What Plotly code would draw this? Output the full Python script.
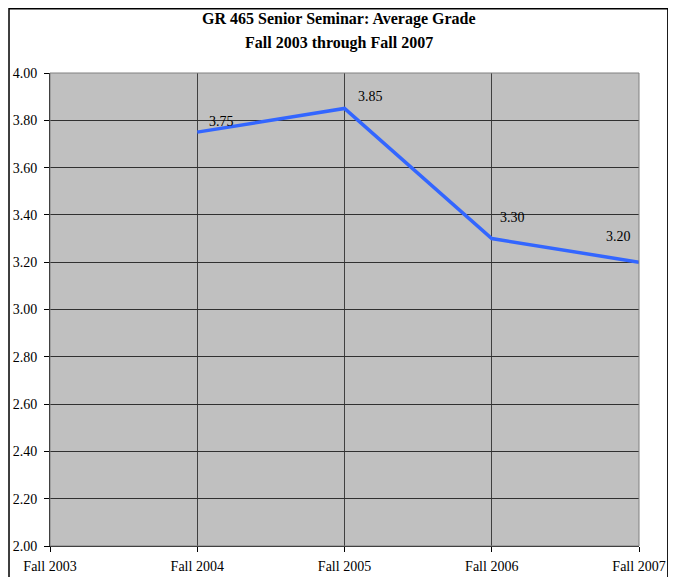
import plotly.graph_objects as go

terms = ["Fall 2003", "Fall 2004", "Fall 2005", "Fall 2006", "Fall 2007"]
avg_grade = [None, 3.75, 3.85, 3.30, 3.20]
y_ticks = [2.0, 2.2, 2.4, 2.6, 2.8, 3.0, 3.2, 3.4, 3.6, 3.8, 4.0]
title_lines = ["GR 465 Senior Seminar: Average Grade", "Fall 2003 through Fall 2007"]

serif = "Liberation Serif, Times New Roman, serif"

fig = go.Figure()
fig.add_trace(go.Scatter(
    x=terms, y=avg_grade, mode="lines",
    line=dict(color="#3366FF", width=3.5),
    connectgaps=False, showlegend=False, hoverinfo="x+y",
))

# data labels, Excel style
label_shift = {"Fall 2004": (24, 11), "Fall 2005": (26, 12), "Fall 2006": (21, 21), "Fall 2007": (-21, 26)}
for t, v in zip(terms, avg_grade):
    if v is None:
        continue
    dx, dy = label_shift[t]
    fig.add_annotation(x=t, y=v, text=f"{v:.2f}", showarrow=False,
                       xshift=dx, yshift=dy, font=dict(family=serif, size=14, color="black"))

# two title lines placed separately (Excel spacing)
for txt, ty in zip(title_lines, [1.114, 1.0634]):
    fig.add_annotation(xref="paper", yref="paper", x=0.4907, y=ty, text=f"<b>{txt}</b>",
                       showarrow=False, xanchor="center", yanchor="middle",
                       font=dict(family=serif, size=16, color="black"))

# page body has an 8px margin, so the figure is 8px smaller than the window
fig.update_layout(
    width=668, height=569,
    margin=dict(l=42, r=37, t=65, b=31),
    paper_bgcolor="white", plot_bgcolor="#C0C0C0",
    font=dict(family=serif, size=14, color="black"),
    xaxis=dict(type="category", range=[0, 4], showgrid=True, gridcolor="#404040", gridwidth=1,
               showline=True, linecolor="black", linewidth=1, ticks="outside", ticklen=5,
               tickcolor="black", automargin=False, zeroline=False, ticklabelstandoff=2),
    yaxis=dict(range=[2.0, 4.0], tickvals=y_ticks, tickformat=".2f", showgrid=True,
               gridcolor="#303030", gridwidth=1, showline=True, linecolor="black", linewidth=1,
               ticks="outside", ticklen=5, tickcolor="black", automargin=False, zeroline=False,
               ticklabelstandoff=4),
)

# chart area border
fig.add_shape(type="rect", xref="paper", yref="paper",
              x0=-0.0696, x1=1.049, y0=-0.08, y1=1.136,
              line=dict(color="black", width=1.5), layer="below")
# plot area right/top edge
fig.add_shape(type="rect", xref="paper", yref="paper", x0=0, x1=1, y0=0, y1=1,
              line=dict(color="#808080", width=1), layer="above")

fig.write_html("out.html")
